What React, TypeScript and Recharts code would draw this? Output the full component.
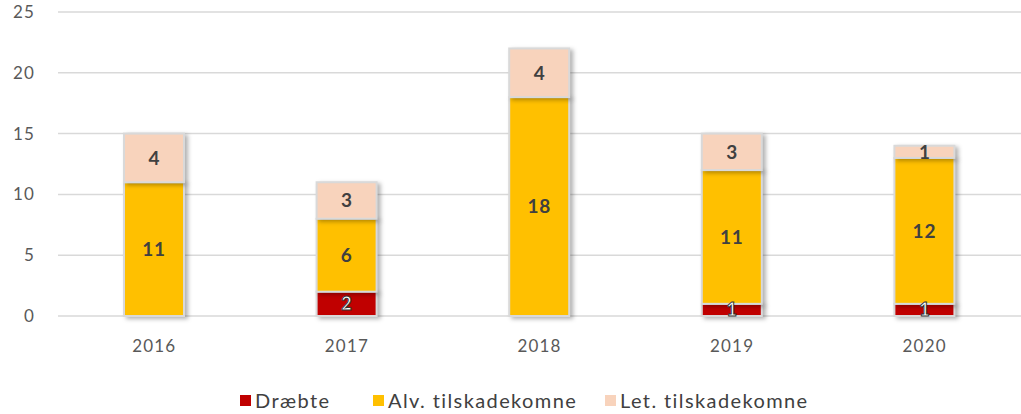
import React from 'react';
import { BarChart, Bar, XAxis, YAxis, CartesianGrid, Legend, LabelList } from 'recharts';

const years = ['2016', '2017', '2018', '2019', '2020'];
const killed = [0, 2, 0, 1, 1];
const seriouslyInjured = [11, 6, 18, 11, 12];
const lightlyInjured = [4, 3, 4, 3, 1];
const yTicks = [0, 5, 10, 15, 20, 25];

const seriesInfo = [
  { key: 'killed', name: 'Dræbte', color: '#C00000' },
  { key: 'serious', name: 'Alv. tilskadekomne', color: '#FFC000' },
  { key: 'light', name: 'Let. tilskadekomne', color: '#F8D3BC' },
];

const data = years.map((year, i) => ({
  year,
  killed: killed[i],
  serious: seriouslyInjured[i],
  light: lightlyInjured[i],
}));

const FONT = 'Lato, "Open Sans", sans-serif';
const TEXT = '#404040';

// rectangle with a soft shadow to the right, like the office chart
const ShadowBar = (props: any) => {
  const { x, y, width, height, fill } = props;
  if (!height || height <= 0) return null;
  return (
    <rect
      x={x}
      y={y}
      width={width}
      height={height}
      fill={fill}
      stroke="#d9d9d9"
      strokeWidth={2}
      style={{ filter: 'drop-shadow(3px 2px 2px rgba(0,0,0,0.3))' }}
    />
  );
};

const hideZero = (v: any) => (v === 0 ? '' : v);

const LegendContent = () => {
  const widths = [133, 232, 240];
  return (
    <div style={{ display: 'flex', paddingLeft: 240, height: 28, alignItems: 'center', fontFamily: FONT, fontSize: 20, letterSpacing: 1.4, color: TEXT }}>
      {seriesInfo.map((s, i) => (
        <div key={s.key} style={{ width: widths[i], display: 'flex', alignItems: 'center', whiteSpace: 'nowrap' }}>
          <span style={{ display: 'inline-block', width: 11, height: 11, background: s.color, marginRight: 4 }} />
          <span>{s.name}</span>
        </div>
      ))}
    </div>
  );
};

export default function App() {
  return (
    <div style={{ position: 'fixed', left: 0, top: 0, width: 1021, height: 414, background: '#fff' }}>
      <BarChart width={1021} height={414} data={data} margin={{ top: 12, right: 0, left: 0, bottom: 0 }} barSize={60}>
        <CartesianGrid vertical={false} stroke="#d9d9d9" strokeWidth={1.5} />
        <XAxis
          dataKey="year"
          axisLine={false}
          tickLine={false}
          tickSize={0}
          tickMargin={24}
          height={70}
          tick={{ fill: '#595959', fontSize: 17, fontFamily: FONT, letterSpacing: 1.2 }}
        />
        <YAxis
          domain={[0, 25]}
          ticks={yTicks}
          axisLine={false}
          tickLine={false}
          tickSize={0}
          tickMargin={23}
          width={58}
          tick={{ fill: '#595959', fontSize: 17, fontFamily: FONT, letterSpacing: 1.2 }}
        />
        <Legend verticalAlign="bottom" content={<LegendContent />} wrapperStyle={{ left: 0, width: 1021 }} />
        <Bar dataKey="killed" name="Dræbte" stackId="a" fill="#C00000" shape={<ShadowBar />} isAnimationActive={false}>
          <LabelList
            dataKey="killed"
            position="center"
            formatter={hideZero}
            style={{ fill: '#fff', stroke: '#333', strokeWidth: 1, fontSize: 18, fontWeight: 900, fontFamily: FONT }}
          />
        </Bar>
        <Bar dataKey="serious" name="Alv. tilskadekomne" stackId="a" fill="#FFC000" shape={<ShadowBar />} isAnimationActive={false}>
          <LabelList
            dataKey="serious"
            position="center"
            formatter={hideZero}
            style={{ fill: TEXT, fontSize: 19, fontWeight: 700, fontFamily: FONT, letterSpacing: 0.8 }}
          />
        </Bar>
        <Bar dataKey="light" name="Let. tilskadekomne" stackId="a" fill="#F8D3BC" shape={<ShadowBar />} isAnimationActive={false}>
          <LabelList
            dataKey="light"
            position="center"
            formatter={hideZero}
            style={{ fill: TEXT, fontSize: 19, fontWeight: 700, fontFamily: FONT }}
          />
        </Bar>
      </BarChart>
    </div>
  );
}
